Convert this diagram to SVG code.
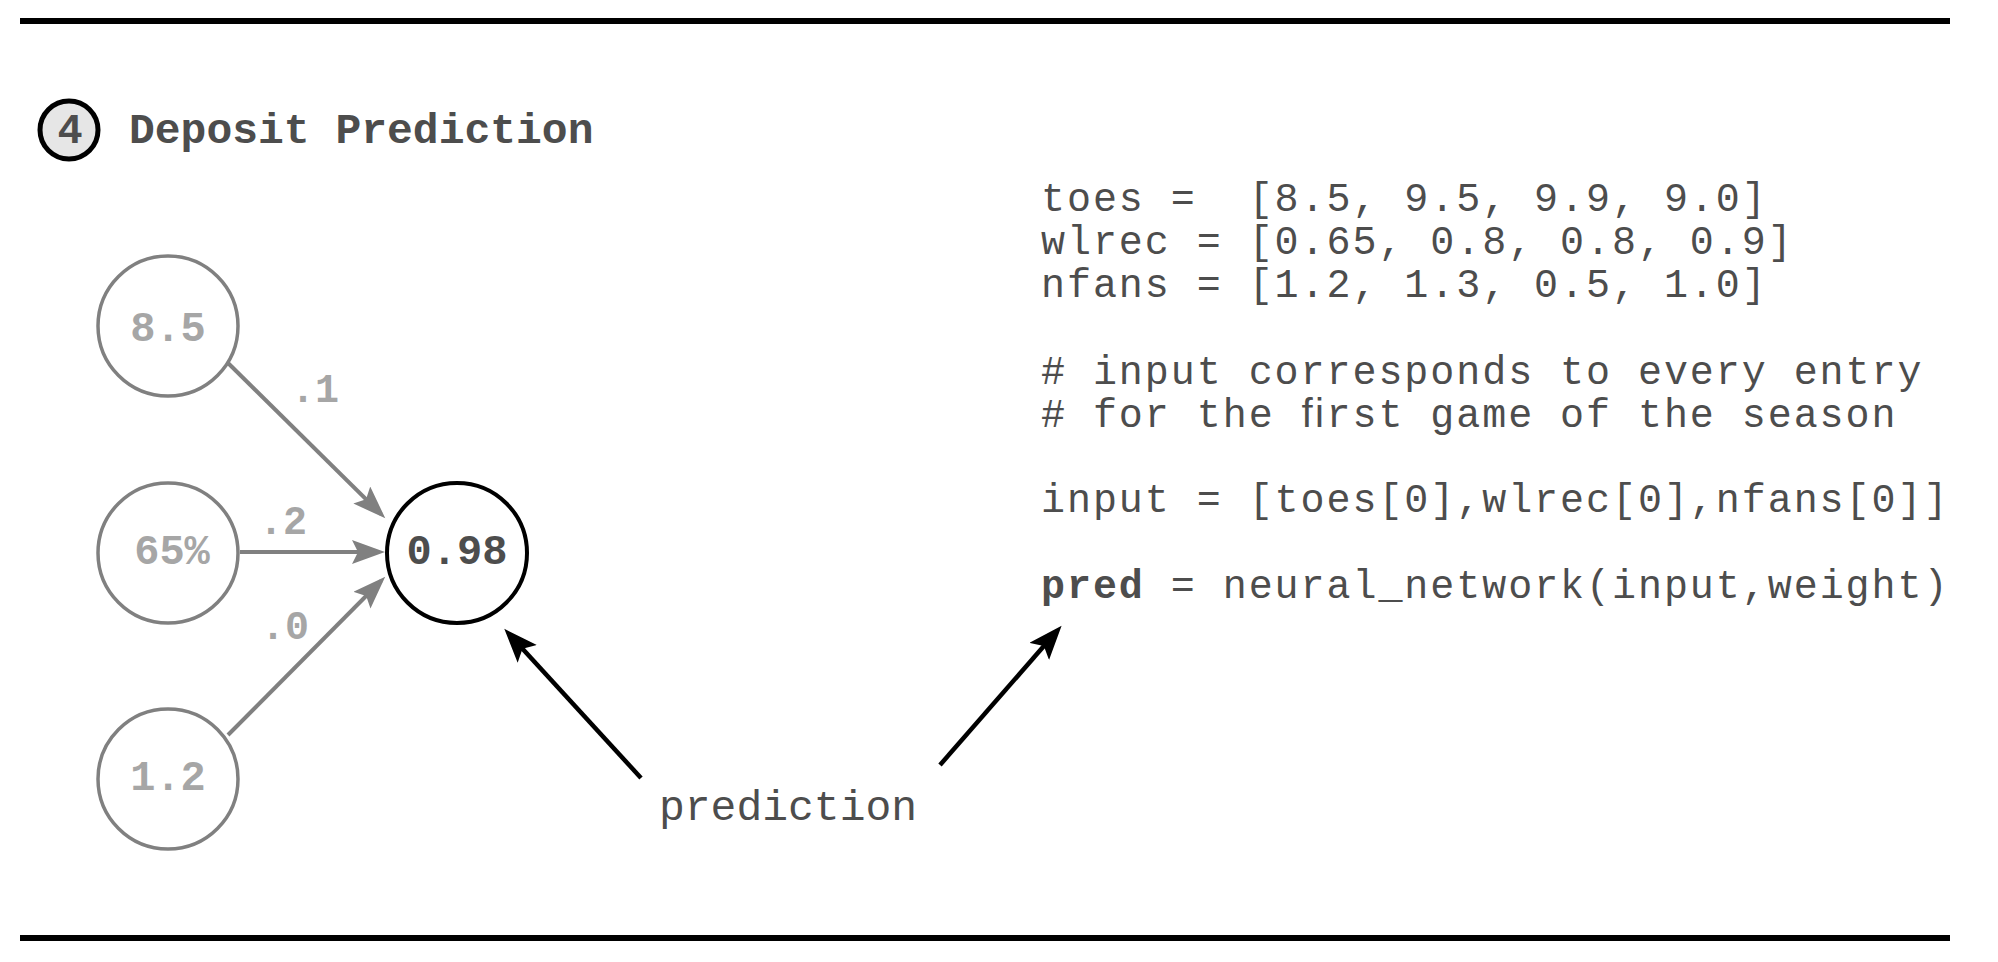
<svg xmlns="http://www.w3.org/2000/svg" width="1998" height="962" viewBox="0 0 1998 962">
<style>
.rule{stroke:#000;stroke-width:6}
.inp{fill:#fff;stroke:#808080;stroke-width:3.5}
.out{fill:#fff;stroke:#000;stroke-width:4}
.nt{font-family:"Liberation Mono","Courier New",monospace;font-weight:bold;font-size:42px;text-anchor:middle}
.gt{fill:#a6a6a6}
.dt{fill:#4d4d4d}
.wl{font-family:"Liberation Mono","Courier New",monospace;font-weight:bold;font-size:40px;fill:#a6a6a6}
.code{font-family:"Liberation Mono","Courier New",monospace;font-size:40px;letter-spacing:1.95px;fill:#4d4d4d}
.ge{stroke:#808080;stroke-width:4;fill:none}
.be{stroke:#000;stroke-width:4.5;fill:none}
</style>
<defs>
<marker id="ag" markerUnits="userSpaceOnUse" markerWidth="40" markerHeight="30" refX="27" refY="12" orient="auto" viewBox="0 0 40 30">
<path d="M33,12 L0,0 L6,12 L0,24 Z" fill="#808080"/>
</marker>
<marker id="ab" markerUnits="userSpaceOnUse" markerWidth="40" markerHeight="30" refX="27" refY="13" orient="auto" viewBox="0 0 40 30">
<path d="M34,13 L0,0 L7,13 L0,26 Z" fill="#000"/>
</marker>
</defs>
<rect width="1998" height="962" fill="#fff"/>
<line class="rule" x1="20" y1="21" x2="1950" y2="21"/>
<line class="rule" x1="20" y1="938" x2="1950" y2="938"/>
<g id="title">
<circle cx="69" cy="130" r="29" fill="#e6e6e6" stroke="#000" stroke-width="5"/>
<text class="nt dt" x="70" y="143">4</text>
<text x="129" y="143" font-family="Liberation Mono, Courier New, monospace" font-weight="bold" font-size="43" fill="#4d4d4d">Deposit Prediction</text>
</g>
<g id="connectors">
<line class="ge" x1="227" y1="362" x2="381" y2="514" marker-end="url(#ag)"/>
<line class="ge" x1="240" y1="552" x2="379" y2="552" marker-end="url(#ag)"/>
<line class="ge" x1="228" y1="735" x2="381" y2="581" marker-end="url(#ag)"/>
<line class="be" x1="641" y1="778" x2="509" y2="634" marker-end="url(#ab)"/>
<line class="be" x1="940" y1="765" x2="1057" y2="631" marker-end="url(#ab)"/>
<text class="wl" x="291" y="402">.1</text>
<text class="wl" x="259" y="534">.2</text>
<text class="wl" x="261" y="639">.0</text>
</g>
<g id="n_toes">
<circle class="inp" cx="168" cy="326" r="70"/>
<text class="nt gt" x="168" y="341">8.5</text>
</g>
<g id="n_wlrec">
<circle class="inp" cx="168" cy="553" r="70"/>
<text class="nt gt" x="172" y="564">65%</text>
</g>
<g id="n_nfans">
<circle class="inp" cx="168" cy="779" r="70"/>
<text class="nt gt" x="168" y="790">1.2</text>
</g>
<g id="n_pred">
<circle class="out" cx="457" cy="553" r="70"/>
<text class="nt dt" x="457" y="564">0.98</text>
</g>
<g id="label_prediction">
<text x="659" y="820" font-family="Liberation Mono, Courier New, monospace" font-size="43" fill="#4d4d4d">prediction</text>
</g>
<g id="code">
<text class="code" x="1041" y="211" xml:space="preserve">toes =  [8.5, 9.5, 9.9, 9.0]</text>
<text class="code" x="1041" y="254" xml:space="preserve">wlrec = [0.65, 0.8, 0.8, 0.9]</text>
<text class="code" x="1041" y="297" xml:space="preserve">nfans = [1.2, 1.3, 0.5, 1.0]</text>
<text class="code" x="1041" y="384" xml:space="preserve"># input corresponds to every entry</text>
<text class="code" x="1041" y="427" xml:space="preserve"># for the ﬁrst game of the season</text>
<text class="code" x="1041" y="512" xml:space="preserve">input = [toes[0],wlrec[0],nfans[0]]</text>
<text class="code" x="1041" y="598" xml:space="preserve"><tspan font-weight="bold">pred</tspan> = neural_network(input,weight)</text>
</g>
</svg>
